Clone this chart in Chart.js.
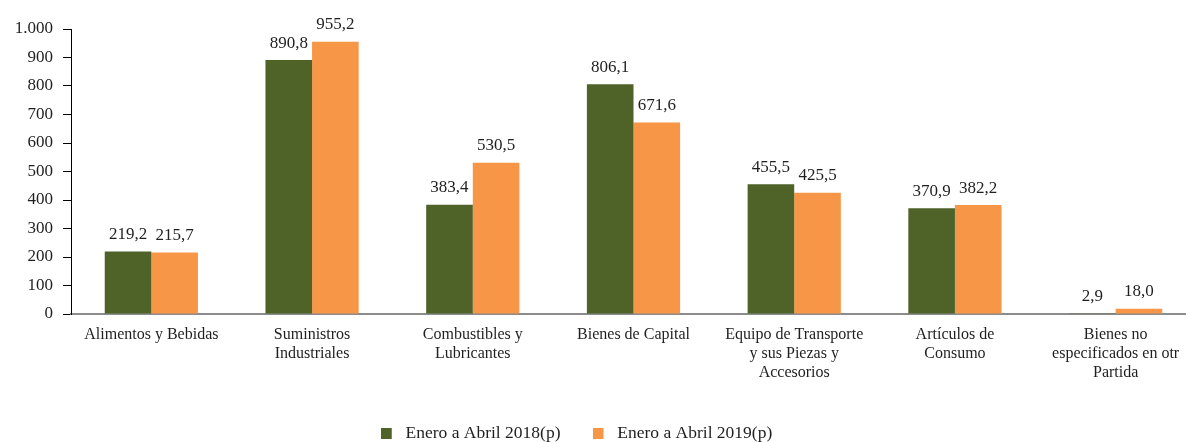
<!DOCTYPE html>
<html>
<head>
<meta charset="utf-8">
<script src="https://cdn.jsdelivr.net/npm/chart.js@4"></script>
<style>
  html, body { margin: 0; padding: 0; background: #fff; overflow: hidden; width: 1186px; height: 442px; }
  #wrap { width: 1196px; height: 442px; position: relative; }
</style>
</head>
<body>
<div id="wrap"><canvas id="c"></canvas></div>
<script>
const categories = [
  "Alimentos y Bebidas",
  ["Suministros", "Industriales"],
  ["Combustibles y", "Lubricantes"],
  "Bienes de Capital",
  ["Equipo de Transporte", "y sus Piezas y", "Accesorios"],
  ["Artículos de", "Consumo"],
  ["Bienes no", "especificados en otr", "Partida"]
];
const seriesNames = ["Enero a Abril 2018(p)", "Enero a Abril 2019(p)"];
const values2018 = [219.2, 890.8, 383.4, 806.1, 455.5, 370.9, 2.9];
const values2019 = [215.7, 955.2, 530.5, 671.6, 425.5, 382.2, 18.0];
const yTicks = [0, 100, 200, 300, 400, 500, 600, 700, 800, 900, 1000];

const GREEN = "#4F6228";
const ORANGE = "#F79646";
const FONT = "'Liberation Serif', 'Times New Roman', serif";
const TEXT = "#1f1f1f";

function fmtThousands(v) {
  const s = String(Math.round(v));
  return s.replace(/\B(?=(\d{3})+(?!\d))/g, ".");
}
function fmtDecimal(v) {
  return v.toFixed(1).replace(".", ",");
}

function legendSwatch(color) {
  const c = document.createElement("canvas");
  c.width = 21; c.height = 11;
  const g = c.getContext("2d");
  g.fillStyle = color;
  g.fillRect(0, 0, 11, 11);
  return c;
}

const dataLabels = {
  id: "dataLabels",
  afterDatasetsDraw(chart) {
    const ctx = chart.ctx;
    ctx.save();
    ctx.font = "17px " + FONT;
    ctx.fillStyle = TEXT;
    ctx.textAlign = "center";
    ctx.textBaseline = "middle";
    chart.data.datasets.forEach((ds, i) => {
      const meta = chart.getDatasetMeta(i);
      meta.data.forEach((el, j) => {
        ctx.fillText(fmtDecimal(ds.data[j]), el.x, el.y - 17);
      });
    });
    ctx.restore();
  }
};

const legendShift = {
  id: "legendShift",
  afterLayout(chart) {
    const lg = chart.legend;
    if (lg) {
      lg.left -= 19;
      lg.right -= 19;
    }
  }
};

new Chart(document.getElementById("c"), {
  type: "bar",
  data: {
    labels: categories,
    datasets: [
      { label: seriesNames[0], data: values2018, backgroundColor: GREEN, borderWidth: 0 },
      { label: seriesNames[1], data: values2019, backgroundColor: ORANGE, borderWidth: 0 }
    ]
  },
  options: {
    responsive: true,
    maintainAspectRatio: false,
    animation: false,
    layout: { padding: { top: 29, right: 0, left: 0, bottom: -10 } },
    datasets: { bar: { categoryPercentage: 0.58, barPercentage: 1.0 } },
    plugins: {
      tooltip: { enabled: false },
      legend: {
        position: "bottom",
        labels: {
          usePointStyle: true,
          pointStyleWidth: 11,
          boxHeight: 11,
          padding: 37,
          color: TEXT,
          font: { family: FONT, size: 17.5 },
          generateLabels(chart) {
            const items = Chart.defaults.plugins.legend.labels.generateLabels(chart);
            items.forEach((it, i) => {
              it.pointStyle = legendSwatch(i === 0 ? GREEN : ORANGE);
            });
            return items;
          }
        }
      }
    },
    scales: {
      x: {
        grid: { display: false, drawTicks: false },
        border: { display: true, color: "#8c8c8c", width: 2 },
        ticks: {
          color: TEXT,
          font: { family: FONT, size: 16, lineHeight: 1.19 },
          padding: 11,
          maxRotation: 0,
          autoSkip: false
        },
        afterFit(scale) { scale.height = 73.5; }
      },
      y: {
        min: 0,
        max: 1000,
        afterBuildTicks(scale) { scale.ticks = yTicks.map(v => ({ value: v })); },
        grid: { display: true, drawOnChartArea: false, drawTicks: true, tickLength: 8, color: "#000" },
        border: { display: true, color: "#000", width: 1 },
        ticks: {
          color: TEXT,
          font: { family: FONT, size: 17 },
          padding: 10,
          callback: (v) => fmtThousands(v)
        },
        afterFit(scale) { scale.width = 71; }
      }
    }
  },
  plugins: [dataLabels, legendShift]
});
</script>
</body>
</html>
